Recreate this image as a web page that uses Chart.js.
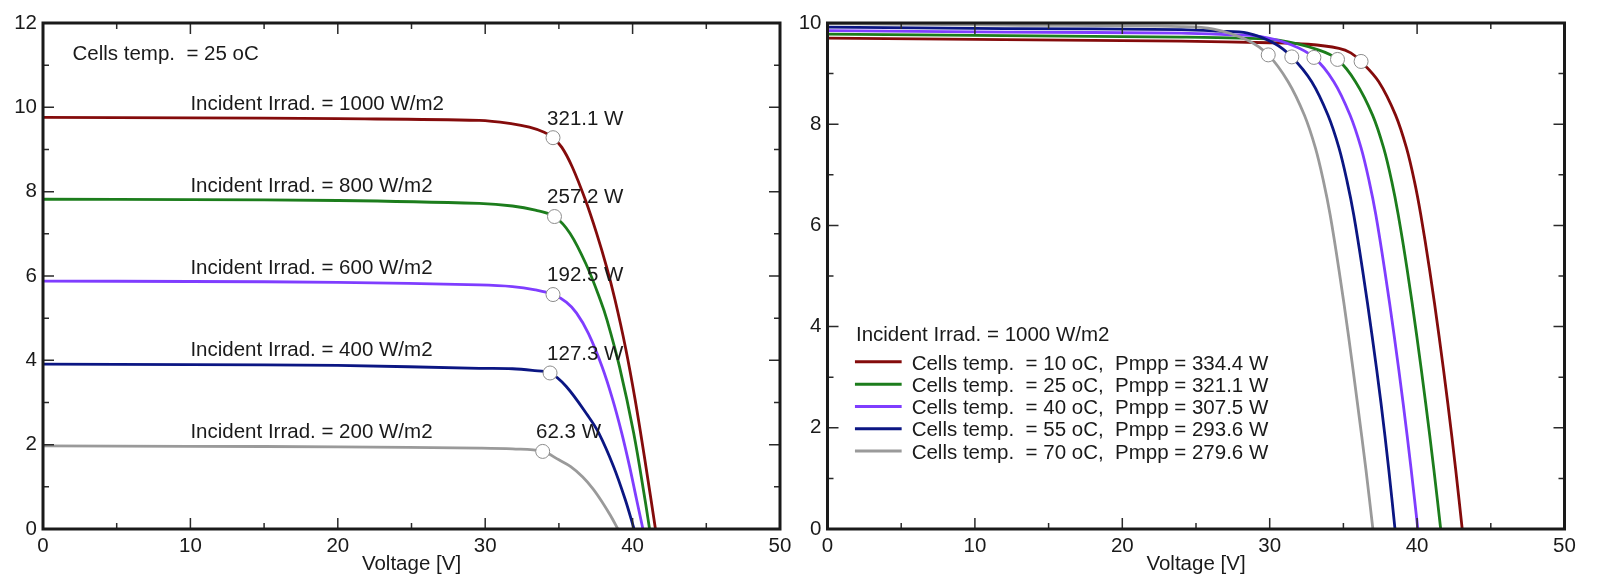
<!DOCTYPE html>
<html>
<head>
<meta charset="utf-8">
<script src="https://cdn.jsdelivr.net/npm/chart.js@4.4.1/dist/chart.umd.min.js"></script>
<style>
  body { margin: 0; background: #fff; }
  #wrap { position: relative; width: 1609px; height: 587px; }
  canvas { position: absolute; top: 0; }
</style>
</head>
<body>
<div id="wrap">
  <canvas id="irradChart" width="800" height="587" style="left:0"></canvas>
  <canvas id="tempChart" width="809" height="587" style="left:800px"></canvas>
</div>
<script>
// ---- left chart: cells at 25 oC, varying irradiance ----
const irradLevels = [1000, 800, 600, 400, 200];
const irradPmpp = [321.1, 257.2, 192.5, 127.3, 62.3];
const irradVmpp = [34.6, 34.7, 34.6, 34.4, 33.9];
const irradImpp = [9.28, 7.41, 5.56, 3.70, 1.84];

const v1000 = [0, 10, 20, 29.6, 31.85, 33.0, 34.0, 34.6, 35.2, 35.9, 36.8, 37.56, 38.23, 38.81, 39.52, 40.17, 40.9, 41.55];
const i1000 = [9.76, 9.75, 9.73, 9.69, 9.61, 9.53, 9.41, 9.28, 9.05, 8.59, 7.80, 7.01, 6.22, 5.43, 4.30, 3.07, 1.49, 0];
const v800 = [0, 10, 20, 29.6, 31.85, 33.4, 34.7, 35.76, 36.92, 37.81, 38.26, 39.11, 40.07, 40.84, 41.15];
const i800 = [7.82, 7.81, 7.79, 7.72, 7.66, 7.56, 7.41, 7.01, 6.22, 5.43, 4.96, 3.85, 2.28, 0.70, 0];
const v600 = [0, 10, 20, 29.6, 31.85, 33.4, 34.6, 35.5, 36.2, 37.0, 37.93, 38.65, 39.26, 39.79, 40.27, 40.7];
const i600 = [5.88, 5.87, 5.85, 5.79, 5.75, 5.67, 5.56, 5.38, 5.12, 4.64, 3.85, 3.07, 2.28, 1.49, 0.70, 0];
const v400 = [0, 10, 20, 29.6, 31.85, 33.2, 34.4, 35.5, 37.0, 37.7, 38.7, 39.5, 40.1];
const i400 = [3.91, 3.90, 3.88, 3.81, 3.80, 3.76, 3.70, 3.38, 2.67, 2.28, 1.49, 0.70, 0];
const v200 = [0, 10, 20, 29.6, 31.85, 33.9, 35.0, 35.8, 36.6, 37.3, 37.9, 38.5, 39.0];
const i200 = [1.97, 1.96, 1.95, 1.92, 1.90, 1.84, 1.64, 1.48, 1.24, 0.96, 0.66, 0.32, 0];

// ---- right chart: 1000 W/m2, varying cell temperature ----
const cellTemps = [10, 25, 40, 55, 70];
const tempPmpp = [334.4, 321.1, 307.5, 293.6, 279.6];
const tempVmpp = [36.2, 34.6, 33.0, 31.5, 29.9];
const tempImpp = [9.24, 9.28, 9.32, 9.33, 9.37];

const vT10 = [0, 12, 24, 30, 32.6, 34.7, 35.5, 36.2, 37.4, 38.54, 39.28, 39.82, 40.25, 40.85, 41.49, 42.08, 42.62, 43.06];
const iT10 = [9.70, 9.67, 9.64, 9.61, 9.58, 9.50, 9.41, 9.24, 8.84, 8.18, 7.53, 6.87, 6.21, 5.12, 3.81, 2.49, 1.17, 0];
const vT25 = [0, 12, 24, 28, 30.6, 33.3, 34.6, 35.82, 36.98, 37.73, 38.28, 38.72, 39.33, 39.98, 40.58, 41.14, 41.6];
const iT25 = [9.78, 9.75, 9.72, 9.70, 9.66, 9.47, 9.28, 8.84, 8.18, 7.53, 6.87, 6.21, 5.12, 3.81, 2.49, 1.17, 0];
const vT40 = [0, 12, 24, 27, 29.4, 31.45, 33.0, 34.35, 35.45, 36.2, 36.75, 37.2, 37.8, 38.45, 39.05, 39.6, 40.05];
const iT40 = [9.85, 9.82, 9.80, 9.77, 9.73, 9.57, 9.32, 8.84, 8.18, 7.53, 6.87, 6.21, 5.12, 3.81, 2.49, 1.17, 0];
const vT55 = [0, 12, 24, 26.5, 28.5, 30.3, 31.5, 32.85, 33.95, 34.7, 35.25, 35.7, 36.3, 36.95, 37.55, 38.08, 38.5];
const iT55 = [9.92, 9.89, 9.87, 9.84, 9.80, 9.60, 9.33, 8.84, 8.18, 7.53, 6.87, 6.21, 5.12, 3.81, 2.49, 1.17, 0];
const vT70 = [0, 12, 24, 26.2, 28.5, 29.9, 31.25, 32.35, 33.1, 33.65, 34.1, 34.7, 35.35, 35.95, 36.53, 37.0];
const iT70 = [9.99, 9.96, 9.93, 9.88, 9.66, 9.37, 8.84, 8.18, 7.53, 6.87, 6.21, 5.12, 3.81, 2.49, 1.17, 0];

const curveColors = ["#840b0b", "#1c7d1c", "#7f3dff", "#0b1683", "#9a9a9a"];
const FONT = '"Liberation Sans", Arial, Helvetica, sans-serif';
const TEXT = "#1a1a1a";

Chart.defaults.font.family = FONT;
Chart.defaults.font.size = 20.5;
Chart.defaults.color = TEXT;

const toPoints = (v, i) => v.map((x, k) => ({ x, y: i[k] }));

function curveSets(pairs) {
  return pairs.map(([v, i], k) => ({
    data: toPoints(v, i),
    borderColor: curveColors[k],
    borderWidth: 2.8,
    pointRadius: 0,
    tension: 0.35,
    order: 5 - k,
  }));
}

function mppSet(v, i) {
  return {
    data: toPoints(v, i),
    showLine: false,
    pointRadius: 7,
    pointBackgroundColor: "#fff",
    pointBorderColor: "#8c8c8c",
    pointBorderWidth: 1,
    order: -1,
  };
}

// box + inward major/minor ticks on all four sides
const frame = {
  id: "frame",
  afterDatasetsDraw(chart) {
    const { ctx, chartArea: a, scales: { x, y } } = chart;
    const withMinor = (scale) => {
      const vals = scale.ticks.map(t => t.value);
      const out = vals.map(v => [v, 11]);
      for (let k = 0; k < vals.length - 1; k++) out.push([(vals[k] + vals[k + 1]) / 2, 6]);
      return out;
    };
    ctx.save();
    ctx.strokeStyle = "#2a2a2a";
    ctx.lineWidth = 1.5;
    ctx.beginPath();
    withMinor(x).forEach(([v, len]) => {
      const px = x.getPixelForValue(v);
      ctx.moveTo(px, a.bottom); ctx.lineTo(px, a.bottom - len);
      ctx.moveTo(px, a.top); ctx.lineTo(px, a.top + len);
    });
    withMinor(y).forEach(([v, len]) => {
      const py = y.getPixelForValue(v);
      ctx.moveTo(a.left, py); ctx.lineTo(a.left + len, py);
      ctx.moveTo(a.right, py); ctx.lineTo(a.right - len, py);
    });
    ctx.stroke();
    ctx.lineWidth = 3;
    ctx.strokeStyle = "#1a1a1a";
    ctx.strokeRect(a.left, a.top, a.right - a.left, a.bottom - a.top);
    ctx.restore();
  }
};

function ivOptions(yMax, yAxisWidth, padRight) {
  return {
    responsive: false,
    animation: false,
    devicePixelRatio: 1,
    layout: { padding: { top: 23, right: padRight, left: 0, bottom: 0 } },
    plugins: { legend: { display: false }, tooltip: { enabled: false } },
    scales: {
      x: {
        type: "linear", min: 0, max: 50,
        ticks: { stepSize: 10, padding: 5, color: TEXT },
        grid: { display: false, drawTicks: false },
        border: { display: false },
        title: { display: true, text: "Voltage [V]", color: TEXT, padding: { top: 0, bottom: 10 } },
        afterFit: (s) => { s.height = 58; },
      },
      y: {
        min: 0, max: yMax,
        ticks: { stepSize: 2, padding: 6, color: TEXT },
        grid: { display: false, drawTicks: false },
        border: { display: false },
        afterFit: (s) => { s.width = yAxisWidth; },
      },
    },
  };
}

// text placed in data units of the left chart
const irradNotes = {
  id: "irradNotes",
  afterDraw(chart) {
    const { ctx, scales: { x, y } } = chart;
    const labelI = [9.94, 8.0, 6.05, 4.1, 2.15];
    const powerV = [34.2, 34.2, 34.2, 34.2, 33.45];
    const powerI = [9.59, 7.72, 5.87, 4.0, 2.16];
    ctx.save();
    ctx.font = "20.5px " + FONT;
    ctx.fillStyle = TEXT;
    ctx.textBaseline = "alphabetic";
    ctx.textAlign = "left";
    ctx.fillText("Cells temp.  = 25 oC", x.getPixelForValue(2.0), y.getPixelForValue(11.13));
    irradLevels.forEach((g, k) => {
      ctx.fillText(`Incident Irrad. = ${g} W/m2`, x.getPixelForValue(10), y.getPixelForValue(labelI[k]));
      ctx.fillText(`${irradPmpp[k].toFixed(1)} W`, x.getPixelForValue(powerV[k]), y.getPixelForValue(powerI[k]));
    });
    ctx.restore();
  }
};

// hand-drawn legend for the right chart
const tempLegend = {
  id: "tempLegend",
  afterDraw(chart) {
    const { ctx, scales: { x, y } } = chart;
    const hx = x.getPixelForValue(1.93);
    const hy = y.getPixelForValue(3.71);
    ctx.save();
    ctx.font = "20.5px " + FONT;
    ctx.fillStyle = TEXT;
    ctx.textBaseline = "alphabetic";
    ctx.textAlign = "left";
    ctx.fillText("Incident Irrad. = 1000 W/m2", hx, hy);
    cellTemps.forEach((t, k) => {
      const base = hy + 28.3 + k * 22.3;
      ctx.strokeStyle = curveColors[k];
      ctx.lineWidth = 3;
      ctx.beginPath();
      ctx.moveTo(hx - 1, base - 7.7);
      ctx.lineTo(hx + 45.7, base - 7.7);
      ctx.stroke();
      ctx.fillText(`Cells temp.  = ${t} oC,  Pmpp = ${tempPmpp[k].toFixed(1)} W`, hx + 55.7, base);
    });
    ctx.restore();
  }
};

new Chart(document.getElementById("irradChart"), {
  type: "line",
  data: {
    datasets: [
      mppSet(irradVmpp, irradImpp),
      ...curveSets([[v1000, i1000], [v800, i800], [v600, i600], [v400, i400], [v200, i200]]),
    ],
  },
  options: ivOptions(12, 43, 20),
  plugins: [frame, irradNotes],
});

new Chart(document.getElementById("tempChart"), {
  type: "line",
  data: {
    datasets: [
      mppSet(tempVmpp, tempImpp),
      ...curveSets([[vT10, iT10], [vT25, iT25], [vT40, iT40], [vT55, iT55], [vT70, iT70]]),
    ],
  },
  options: ivOptions(10, 27.5, 44.5),
  plugins: [frame, tempLegend],
});
</script>
</body>
</html>
